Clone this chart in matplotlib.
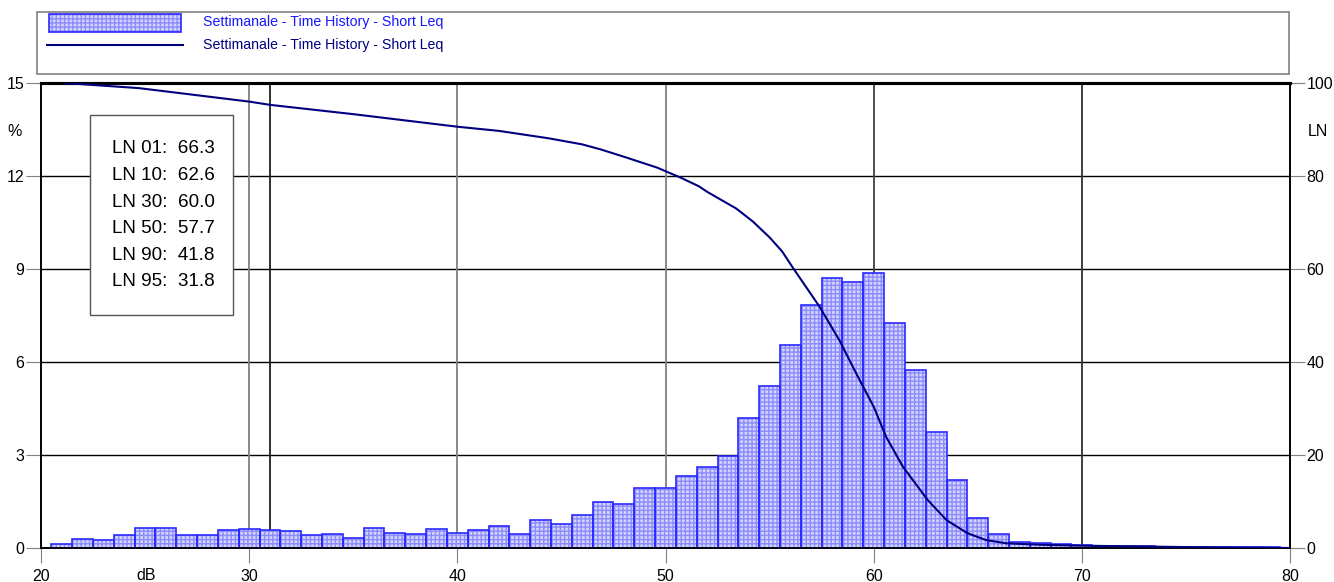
import matplotlib
matplotlib.use("Agg")
import matplotlib.pyplot as plt
from matplotlib.patches import Rectangle
from matplotlib.lines import Line2D

plt.rcParams['font.family'] = ['Liberation Sans', 'DejaVu Sans']

# === Data ===
bar_db = list(range(21, 80))
bar_pct = [0.13, 0.29, 0.26, 0.41, 0.65, 0.65, 0.43, 0.42, 0.58, 0.60,
           0.58, 0.55, 0.41, 0.44, 0.33, 0.65, 0.47, 0.45, 0.62, 0.50,
           0.57, 0.72, 0.44, 0.90, 0.76, 1.06, 1.48, 1.42, 1.92, 1.94,
           2.32, 2.61, 2.98, 4.18, 5.24, 6.55, 7.85, 8.70, 8.58, 8.88,
           7.26, 5.73, 3.74, 2.19, 0.97, 0.46, 0.19, 0.15, 0.12, 0.11,
           0.08, 0.06, 0.05, 0.04, 0.04, 0.03, 0.03, 0.02, 0.02]

ln_db = [21.1, 24.7, 30.0, 31.0, 35.0, 40.0, 42.0, 44.4, 46.0, 46.9, 48.1,
         49.6, 50.7, 51.6, 52.0, 53.4, 54.2, 55.0, 55.6, 56.1, 57.4, 58.35,
         59.2, 60.0, 60.6, 61.4, 62.6, 63.5, 64.5, 65.4, 66.4, 68.0, 70.0,
         75.0, 80.0]
ln_val = [100, 98.9, 96.0, 95.3, 93.3, 90.6, 89.7, 88.1, 86.8, 85.7, 84.0,
          81.8, 79.7, 77.8, 76.6, 73.0, 70.2, 66.8, 63.8, 60.4, 51.9, 44.7,
          37.2, 30.4, 23.9, 17.5, 10.3, 6.0, 3.2, 1.7, 1.0, 0.7, 0.5,
          0.2, 0.0]

stat_names = ['01', '10', '30', '50', '90', '95']
stat_values = [66.3, 62.6, 60.0, 57.7, 41.8, 31.8]

series_label = 'Settimanale - Time History - Short Leq'
x_ticks = [20, 30, 40, 50, 60, 70, 80]
y_ticks_left = [0, 3, 6, 9, 12, 15]
y_ticks_right = [0, 20, 40, 60, 80, 100]

bar_fill = '#d4d4fb'
bar_hatch = '#8c8cff'
bar_edge = '#2a2aff'
line_color = '#000080'

fig = plt.figure(figsize=(13.34, 5.82), dpi=100)
W, H = 1334, 582
ax = fig.add_axes([41 / W, 1 - 548 / H, 1249 / W, 465 / H])

# grid behind the bars
for v in y_ticks_left[1:-1]:
    ax.axhline(v, color='black', lw=1.0, zorder=0)
for v, c in [(30, '#808080'), (31, '#202020'), (40, '#808080'),
             (50, '#808080'), (60, '#404040'), (70, '#303030')]:
    ax.axvline(v, color=c, lw=1.3, zorder=0)

# stats box (in front of grid, behind the bars/line)
ax.add_patch(Rectangle((0.0392, 0.501), 0.1145, 0.430, transform=ax.transAxes,
                       facecolor='white', edgecolor='#555555', lw=1.0, zorder=1))
for i, (n, v) in enumerate(zip(stat_names, stat_values)):
    ax.text(0.0568, (548 - (149 + i * 26.6)) / 465, f'LN {n}:  {v:.1f}',
            transform=ax.transAxes, fontsize=13.6, va='center', ha='left', zorder=2)

ax.bar(bar_db, bar_pct, width=1.0, color=bar_fill, edgecolor=bar_hatch,
       hatch='++++', linewidth=0, zorder=2)
ax.bar(bar_db, bar_pct, width=1.0, fill=False, edgecolor=bar_edge,
       linewidth=1.2, zorder=3)

ax.set_xlim(20, 80)
ax.set_ylim(0, 15)
ax.set_xticks(x_ticks)
ax.set_yticks(y_ticks_left)
ax.tick_params(axis='both', length=11, color='#808080', labelsize=11.5)
ax.tick_params(axis='y', pad=1)
ax.tick_params(axis='x', pad=4)
for s in ['left', 'right', 'bottom']:
    ax.spines[s].set_linewidth(1.2)
ax.spines['top'].set_linewidth(2.2)

ax2 = ax.twinx()
ax2.plot(ln_db, ln_val, color=line_color, lw=1.5, zorder=5)
ax2.set_ylim(0, 100)
ax2.set_yticks(y_ticks_right)
ax2.tick_params(axis='y', length=11, color='#808080', labelsize=11.5, pad=1)
for s in ['left', 'right', 'bottom']:
    ax2.spines[s].set_linewidth(1.2)
ax2.spines['top'].set_linewidth(2.2)

# axis captions
fig.text(15 / W, 1 - 131 / H, '%', fontsize=11.5, ha='center', va='center')
fig.text(1318 / W, 1 - 131 / H, 'LN', fontsize=11.5, ha='center', va='center')
fig.text(146 / W, 1 - 576 / H, 'dB', fontsize=11.5, ha='center', va='center')

# legend box at the top
fig.add_artist(Rectangle((37 / W, 1 - 74 / H), 1252 / W, 62 / H,
                         transform=fig.transFigure, facecolor='white',
                         edgecolor='#808080', lw=1.2))
fig.add_artist(Rectangle((49 / W, 1 - 32 / H), 132 / W, 18 / H,
                         transform=fig.transFigure, facecolor=bar_fill,
                         edgecolor=bar_hatch, hatch='++++', lw=0))
fig.add_artist(Rectangle((49 / W, 1 - 32 / H), 132 / W, 18 / H,
                         transform=fig.transFigure, fill=False,
                         edgecolor=bar_edge, lw=1.2))
fig.add_artist(Line2D([47 / W, 183 / W], [1 - 45 / H, 1 - 45 / H],
                      transform=fig.transFigure, color=line_color, lw=1.5))
fig.text(203 / W, 1 - 22 / H, series_label, fontsize=10.2, color='#1515ff',
         va='center', ha='left')
fig.text(203 / W, 1 - 45 / H, series_label, fontsize=10.2, color=line_color,
         va='center', ha='left')

fig.savefig('out.png', dpi=100)
plt.close(fig)
